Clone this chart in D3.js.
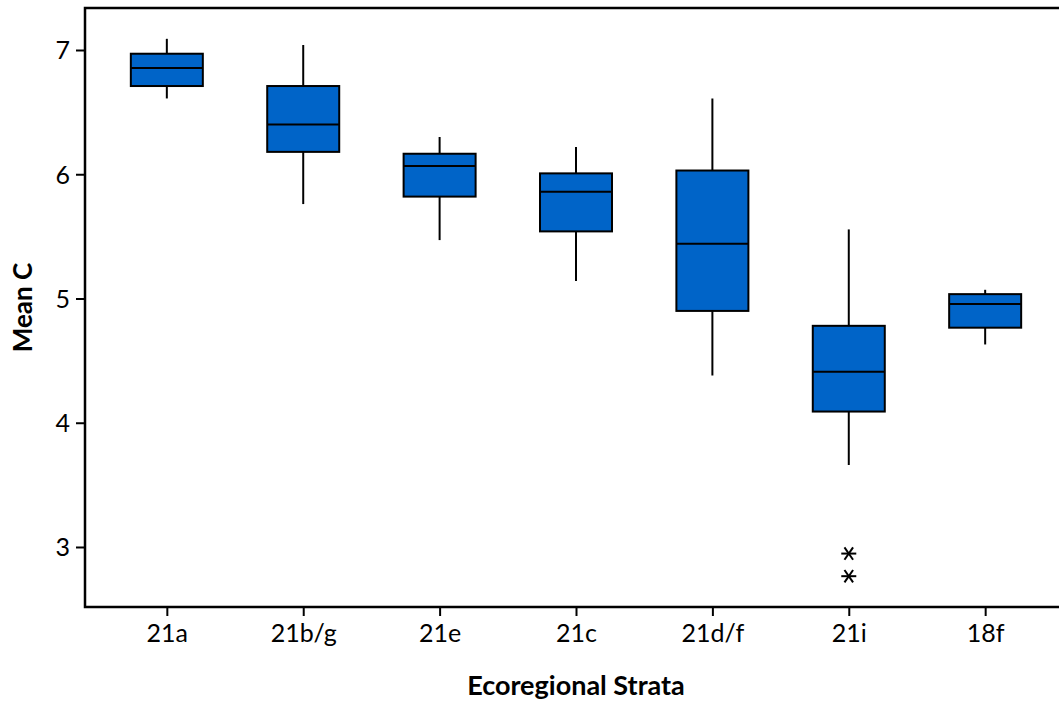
<!DOCTYPE html>
<html>
<head>
<meta charset="utf-8">
<script src="https://cdn.jsdelivr.net/npm/d3@7"></script>
<style>
  body { margin: 0; background: #fff; }
  svg text { font-family: Lato, "Open Sans", sans-serif; fill: #000; }
</style>
</head>
<body>
<div id="chart"></div>
<script>
// data
const categories = ["21a", "21b/g", "21e", "21c", "21d/f", "21i", "18f"];
const whiskerLow = [6.61, 5.76, 5.47, 5.14, 4.38, 3.66, 4.63];
const q1 = [6.71, 6.18, 5.82, 5.54, 4.90, 4.09, 4.765];
const median = [6.855, 6.40, 6.066, 5.86, 5.44, 4.41, 4.955];
const q3 = [6.97, 6.71, 6.165, 6.007, 6.03, 4.78, 5.035];
const whiskerHigh = [7.09, 7.04, 6.30, 6.22, 6.61, 5.556, 5.07];
const outliers = [{cat: "21i", value: 2.947}, {cat: "21i", value: 2.765}];
const yTicks = [3, 4, 5, 6, 7];

const width = 1059, height = 704;
const plotLeft = 85, plotTop = 8, plotBottom = 607, plotRight = 1067;

const svg = d3.select("#chart").append("svg")
    .attr("width", width)
    .attr("height", height);

const x = d3.scalePoint().domain(categories).range([plotLeft, plotRight]).padding(0.6);
const y = d3.scaleLinear().domain([2.517, 7.338]).range([plotBottom, plotTop]);

const boxes = categories.map((c, i) => ({
    cat: c, lo: whiskerLow[i], q1: q1[i], med: median[i], q3: q3[i], hi: whiskerHigh[i]
}));

const halfW = 36;

// whiskers
const g = svg.append("g");
g.selectAll("line.whisker")
    .data(boxes)
    .enter().append("line")
    .attr("class", "whisker")
    .attr("x1", d => x(d.cat)).attr("x2", d => x(d.cat))
    .attr("y1", d => y(d.lo)).attr("y2", d => y(d.hi))
    .attr("stroke", "#000").attr("stroke-width", 2);

// boxes
g.selectAll("rect")
    .data(boxes)
    .enter().append("rect")
    .attr("x", d => x(d.cat) - halfW)
    .attr("width", halfW * 2)
    .attr("y", d => y(d.q3))
    .attr("height", d => y(d.q1) - y(d.q3))
    .attr("fill", "#0064C8")
    .attr("stroke", "#000").attr("stroke-width", 2);

// medians
g.selectAll("line.median")
    .data(boxes)
    .enter().append("line")
    .attr("class", "median")
    .attr("x1", d => x(d.cat) - halfW).attr("x2", d => x(d.cat) + halfW)
    .attr("y1", d => y(d.med)).attr("y2", d => y(d.med))
    .attr("stroke", "#000").attr("stroke-width", 2);

// outliers as asterisks
const star = svg.selectAll("g.out")
    .data(outliers)
    .enter().append("g")
    .attr("class", "out")
    .attr("transform", d => `translate(${x(d.cat)},${y(d.value)})`);
[0, 55, -55].forEach(a => {
    const r = 7.5, rad = a * Math.PI / 180;
    star.append("line")
        .attr("x1", -r * Math.cos(rad)).attr("y1", -r * Math.sin(rad))
        .attr("x2", r * Math.cos(rad)).attr("y2", r * Math.sin(rad))
        .attr("stroke", "#000").attr("stroke-width", 2);
});

// axes
const yAxis = svg.append("g")
    .attr("transform", `translate(${plotLeft},0)`)
    .call(d3.axisLeft(y).tickValues(yTicks).tickSize(9).tickPadding(6).tickFormat(d3.format("d")));
yAxis.select(".domain").remove();
yAxis.selectAll("line").attr("stroke-width", 2);
yAxis.selectAll("text").style("font-size", "25px").attr("dy", "0.36em");

const xAxis = svg.append("g")
    .attr("transform", `translate(0,${plotBottom})`)
    .call(d3.axisBottom(x).tickSize(9).tickPadding(8));
xAxis.select(".domain").remove();
xAxis.selectAll("line").attr("stroke-width", 2);
xAxis.selectAll("text").style("font-size", "25px");

// frame: left, top, bottom
svg.append("path")
    .attr("d", `M${width + 2},${plotTop}H${plotLeft}V${plotBottom}H${width + 2}`)
    .attr("fill", "none")
    .attr("stroke", "#000")
    .attr("stroke-width", 2.5);

// titles
svg.append("text")
    .attr("x", (plotLeft + plotRight) / 2)
    .attr("y", 695)
    .attr("text-anchor", "middle")
    .style("font-size", "27px")
    .style("font-weight", "bold")
    .text("Ecoregional Strata");

svg.append("text")
    .attr("transform", `translate(32,${(plotTop + plotBottom) / 2}) rotate(-90)`)
    .attr("text-anchor", "middle")
    .style("font-size", "26px")
    .style("font-weight", "bold")
    .text("Mean C");
</script>
</body>
</html>
